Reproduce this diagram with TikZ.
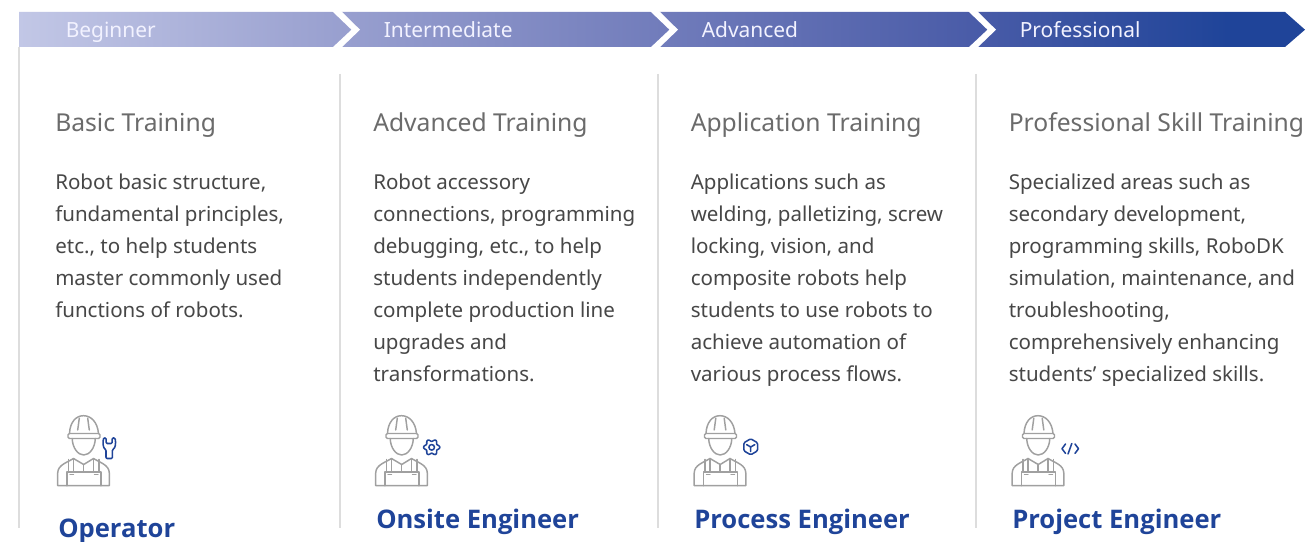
\documentclass[tikz,border=0pt]{standalone}
\usepackage{fontspec}
\setmainfont{Noto Sans}
\newfontfamily\rolefont{Open Sans}
\usetikzlibrary{calc}
\definecolor{ink}{HTML}{1F4499}
\definecolor{hair}{HTML}{DDDDDD}
\definecolor{wgrey}{HTML}{A0A0A0}
\definecolor{ttl}{HTML}{6B6B6B}
\definecolor{bodyc}{HTML}{474747}
\definecolor{c1}{HTML}{C2C7E6}
\definecolor{c2}{HTML}{9AA1D0}
\definecolor{c3}{HTML}{717CBB}
\definecolor{c4}{HTML}{4A5CA8}
\pgfdeclarehorizontalshading{barshade}{100bp}{
 color(0bp)=(c1);color(25bp)=(c1);color(37bp)=(c2);color(50bp)=(c3);color(62bp)=(c4);color(72bp)=(ink);color(100bp)=(ink)}
\tikzset{
 x=0.75pt,y=-0.75pt,
 rule/.style={draw=hair,line width=1.1pt},
 lvl/.style={anchor=base west,inner sep=0,text=white!95!blue,font=\fontsize{15.7pt}{18pt}\selectfont},
 ttlt/.style={anchor=base west,inner sep=0,text=ttl,font=\fontsize{18.5pt}{22pt}\selectfont},
 bodyt/.style={anchor=north west,inner sep=0,align=left,text=bodyc,font=\fontsize{15.4pt}{24pt}\selectfont},
 role/.style={anchor=base west,inner sep=0,text=ink,font=\rolefont\fontsize{19.2pt}{24pt}\selectfont\bfseries},
 wk/.style={draw=wgrey,line width=1.1pt,line join=round,line cap=round},
 sym/.style={draw=ink,line width=1.15pt,line join=round,line cap=round},
 worker/.pic={
  \draw[wk] (29.5,28.5) .. controls (30,17) and (36,10.7) .. (43.5,10.7) .. controls (51,10.7) and (57.5,17) .. (58.5,28.5);
  \draw[wk,rounded corners=1pt] (28,28.5) rectangle (60,33.5);
  \draw[wk] (37.7,25) -- (39.3,13.2) (49.3,25) -- (47.7,13.2);
  \draw[wk] (32.2,33.5) .. controls (32.5,43) and (38,50) .. (43.7,50) .. controls (49.5,50) and (55,43) .. (55.3,33.5);
  \draw[wk] (17.7,80.7) -- (17.7,68) .. controls (18,60) and (26,58) .. (33.5,53.5) -- (43.7,59.5) -- (53.5,53.5) .. controls (61,58) and (69,60) .. (69.3,68) -- (69.3,80.7) -- cycle;
  \draw[wk] (27,80.7) -- (27,67) -- (61,67) -- (61,80.7);
  \draw[wk] (28.5,67) -- (28.5,54.5) (33.5,67) -- (33.5,53.5) (53.5,67) -- (53.5,53.5) (59,67) -- (59,54.5);
  \draw[wk] (43.7,59.5) -- (43.7,67);
  \draw[wk] (30,69.5) -- (33.5,69.5) (54.5,69.5) -- (58,69.5);
 }
}
\begin{document}
\begin{tikzpicture}
\useasboundingbox (0,0) rectangle (1307,542);
\fill[white] (0,0) rectangle (1307,542);
% banner
\shade[shading=barshade] (19,12) -- (1285,12) -- (1305,29.7) -- (1285,47) -- (19,47) -- cycle;
\foreach \dx in {0,318,636}{
 \fill[white] (332+\dx,11) -- (341+\dx,11) -- (360+\dx,29.7) -- (341+\dx,48) -- (332+\dx,48) -- (351.5+\dx,29.7) -- cycle;
}
% rules
\draw[rule] (19,47) -- (19,528);
\draw[rule] (340,74) -- (340,528);
\draw[rule] (658,74) -- (658,528);
\draw[rule] (976,74) -- (976,528);
% level labels
\node[lvl] (l1) at (65.5,38) {Beginner};
\node[lvl] (l2) at (383.5,38) {Intermediate};
\node[lvl] (l3) at (701.5,38) {Advanced};
\node[lvl] (l4) at (1019.5,38) {Professional};
% titles
\node[ttlt] (t1) at (55,131.5) {Basic Training};
\node[ttlt] (t2) at (373,131.5) {Advanced Training};
\node[ttlt] (t3) at (690.5,131.5) {Application Training};
\node[ttlt] (t4) at (1008.5,131.5) {Professional Skill Training};
% bodies
\node[bodyt] (b1) at (55,174) {Robot basic structure,\\fundamental principles,\\etc., to help students\\master commonly used\\functions of robots.};
\node[bodyt] (b2) at (373,174) {Robot accessory\\connections, programming\\debugging, etc., to help\\students independently\\complete production line\\upgrades and\\transformations.};
\node[bodyt] (b3) at (690.5,174) {Applications such as\\welding, palletizing, screw\\locking, vision, and\\composite robots help\\students to use robots to\\achieve automation of\\various process flows.};
\node[bodyt] (b4) at (1008.5,174) {Specialized areas such as\\secondary development,\\programming skills, RoboDK\\simulation, maintenance, and\\troubleshooting,\\comprehensively enhancing\\students’ specialized skills.};
% workers
\pic (w1) at (40,405) {worker};
\pic (w2) at (358,405) {worker};
\pic (w3) at (676.5,405) {worker};
\pic (w4) at (994.5,405) {worker};
% wrench
\draw[sym,rounded corners=0.8pt] (106,458.5) -- (106,449.5) .. controls (103,448) and (102.8,443) .. (103.5,438) -- (106.2,438) -- (106.2,443.5) -- (112.2,443.5) -- (112.2,438) -- (115,438) .. controls (116,443) and (115.5,448) .. (112.4,449.5) -- (112.4,458.5) -- cycle;
% gear
\draw[sym,smooth,samples=73,domain=0:360] plot ({431.7+(7+1.1*cos(6*\x))*cos(\x)},{447.3+(7+1.1*cos(6*\x))*sin(\x)});
\draw[sym] (431.7,447.3) circle[radius=2.8];
% cube
\draw[sym,rounded corners=1pt] (750.7,438.8) -- (757.6,442.8) -- (757.6,450.8) -- (750.7,454.8) -- (743.8,450.8) -- (743.8,442.8) -- cycle;
\draw[sym] (746.6,444.6) -- (750.7,447) -- (754.8,444.6) (750.7,447) -- (750.7,451.5);
% code
\draw[sym] (1065.5,444) -- (1062,448.7) -- (1065.5,453.4) (1071.8,443.5) -- (1068,454) (1075,444) -- (1078.5,448.7) -- (1075,453.4);
% roles
\node[role] (r1) at (58,537) {Operator};
\node[role] (r2) at (376,528) {Onsite Engineer};
\node[role] (r3) at (694,528) {Process Engineer};
\node[role] (r4) at (1012,528) {Project Engineer};
\end{tikzpicture}
\end{document}
